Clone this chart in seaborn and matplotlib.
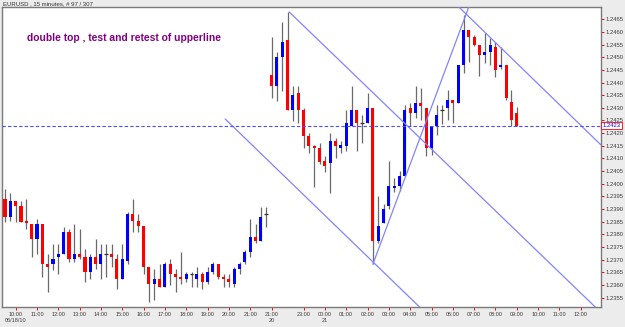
import numpy as np
import pandas as pd
import matplotlib
matplotlib.use("Agg")
import matplotlib.pyplot as plt
import matplotlib.transforms as mtransforms
import seaborn as sns

# ---------------- data (EURUSD 15 min candles) ----------------
opens = [1.23940, 1.23870, 1.23932, 1.23912, 1.23853, 1.23841, 1.23782, 1.23841, 1.23682, 1.23682,
         1.23712, 1.23721, 1.23810, 1.23703, 1.23722, 1.23712, 1.23652, 1.23712, 1.23682, 1.23721,
         1.23721, 1.23703, 1.23622, 1.23695, 1.23880, 1.23853, 1.23832, 1.23672, 1.23603, 1.23622,
         1.23593, 1.23682, 1.23643, 1.23633, 1.23622, 1.23643, 1.23622, 1.23643, 1.23613, 1.23652,
         1.23682, 1.23633, 1.23622, 1.23603, 1.23662, 1.23692, 1.23731, 1.23791, 1.23774, 1.23880,
         1.24430, 1.24386, 1.24500, 1.24568, 1.24292, 1.24360, 1.24292, 1.24190, 1.24149, 1.24142,
         1.24090, 1.24083, 1.24169, 1.24142, 1.24149, 1.24228, 1.24292, 1.24239, 1.24239, 1.24298,
         1.23774, 1.23844, 1.23912, 1.23982, 1.23991, 1.24031, 1.24298, 1.24281, 1.24318, 1.24299,
         1.24142, 1.24229, 1.24292, 1.24301, 1.24331, 1.24320, 1.24469, 1.24608, 1.24579, 1.24548,
         1.24509, 1.24520, 1.24541, 1.24461, 1.24469, 1.24323, 1.24280]
highs = [1.23979, 1.23962, 1.23932, 1.23932, 1.23940, 1.23841, 1.23861, 1.23841, 1.23721, 1.23761,
         1.23761, 1.23830, 1.23820, 1.23841, 1.23821, 1.23741, 1.23721, 1.23780, 1.23761, 1.23761,
         1.23761, 1.23721, 1.23761, 1.23889, 1.23940, 1.23880, 1.23832, 1.23672, 1.23663, 1.23682,
         1.23692, 1.23701, 1.23663, 1.23731, 1.23652, 1.23652, 1.23672, 1.23652, 1.23672, 1.23692,
         1.23682, 1.23642, 1.23642, 1.23672, 1.23692, 1.23738, 1.23859, 1.23840, 1.23909, 1.23909,
         1.24579, 1.24520, 1.24638, 1.24678, 1.24386, 1.24386, 1.24301, 1.24199, 1.24153, 1.24160,
         1.24110, 1.24199, 1.24180, 1.24169, 1.24292, 1.24386, 1.24292, 1.24272, 1.24360, 1.24298,
         1.23952, 1.23920, 1.24090, 1.24022, 1.24050, 1.24311, 1.24318, 1.24386, 1.24377, 1.24299,
         1.24229, 1.24311, 1.24311, 1.24371, 1.24331, 1.24469, 1.24667, 1.24608, 1.24588, 1.24548,
         1.24596, 1.24574, 1.24560, 1.24541, 1.24469, 1.24371, 1.24303]
lows = [1.23850, 1.23854, 1.23850, 1.23850, 1.23820, 1.23712, 1.23721, 1.23633, 1.23571, 1.23659,
        1.23642, 1.23721, 1.23692, 1.23692, 1.23703, 1.23610, 1.23622, 1.23662, 1.23622, 1.23633,
        1.23672, 1.23583, 1.23622, 1.23682, 1.23810, 1.23810, 1.23643, 1.23534, 1.23540, 1.23593,
        1.23593, 1.23600, 1.23573, 1.23603, 1.23613, 1.23593, 1.23593, 1.23583, 1.23603, 1.23643,
        1.23622, 1.23593, 1.23593, 1.23593, 1.23642, 1.23683, 1.23712, 1.23765, 1.23774, 1.23830,
        1.24340, 1.24327, 1.24368, 1.24292, 1.24248, 1.24239, 1.24140, 1.24120, 1.23988, 1.24078,
        1.24048, 1.23962, 1.24101, 1.24120, 1.24129, 1.24228, 1.24129, 1.24160, 1.24239, 1.23682,
        1.23765, 1.23844, 1.23900, 1.23969, 1.23971, 1.24031, 1.24228, 1.24261, 1.24252, 1.24111,
        1.24114, 1.24191, 1.24235, 1.24252, 1.24239, 1.24320, 1.24437, 1.24480, 1.24544, 1.24427,
        1.24477, 1.24469, 1.24422, 1.24454, 1.24331, 1.24228, 1.24228]
closes = [1.23870, 1.23932, 1.23912, 1.23850, 1.23844, 1.23782, 1.23841, 1.23682, 1.23672, 1.23703,
          1.23722, 1.23810, 1.23703, 1.23722, 1.23712, 1.23652, 1.23712, 1.23682, 1.23721, 1.23721,
          1.23712, 1.23622, 1.23703, 1.23880, 1.23853, 1.23833, 1.23672, 1.23603, 1.23622, 1.23593,
          1.23682, 1.23643, 1.23633, 1.23622, 1.23643, 1.23643, 1.23643, 1.23613, 1.23652, 1.23682,
          1.23633, 1.23622, 1.23613, 1.23662, 1.23682, 1.23731, 1.23791, 1.23774, 1.23870, 1.23880,
          1.24386, 1.24500, 1.24559, 1.24292, 1.24351, 1.24292, 1.24190, 1.24149, 1.24142, 1.24087,
          1.24070, 1.24169, 1.24149, 1.24153, 1.24239, 1.24292, 1.24239, 1.24239, 1.24298, 1.23774,
          1.23833, 1.23900, 1.23991, 1.23991, 1.24031, 1.24292, 1.24281, 1.24318, 1.24307, 1.24142,
          1.24229, 1.24272, 1.24292, 1.24331, 1.24320, 1.24469, 1.24608, 1.24579, 1.24548, 1.24509,
          1.24520, 1.24548, 1.24450, 1.24471, 1.24340, 1.24252, 1.24229]

# hour labels (bar index positions on the continuous bar axis)
tick_pos = [2, 6, 10, 14, 18, 22, 26, 30, 34, 38, 42, 46, 50, 56, 60, 64, 68, 72, 76, 80,
            84, 88, 92, 96, 100, 104, 108]
tick_labels = ["10:00\n06/18/10", "11:00", "12:00", "13:00", "14:00", "15:00", "16:00", "17:00",
               "18:00", "19:00", "20:00", "21:00", "21:00\n20", "23:00", "00:00\n21", "01:00",
               "02:00", "03:00", "04:00", "05:00", "06:00", "07:00", "08:00", "09:00", "10:00",
               "11:00", "12:00"]
price_ticks = [1.2355, 1.2360, 1.2365, 1.2370, 1.2375, 1.2380, 1.2385, 1.2390, 1.2395, 1.2400,
               1.2405, 1.2410, 1.2415, 1.2420, 1.2425, 1.2430, 1.2435, 1.2440, 1.2445, 1.2450,
               1.2455, 1.2460, 1.2465]
current_price = 1.2423

# trend lines: (start bar, start price) -> (end bar, end price)
trend_x0 = [53.3, 41.3, 85.1, 69.0]
trend_p0 = [1.24679, 1.24256, 1.24699, 1.23682]
trend_x1 = [110.7, 77.9, 111.8, 87.0]
trend_p1 = [1.23513, 1.23510, 1.24153, 1.24699]

title = "EURUSD , 15 minutes, # 97 / 307"
note = "double top , test and retest of upperline"

# ---------------- drawing ----------------
sns.set_theme(style="white")
plt.rcParams['font.family'] = ['Liberation Sans', 'DejaVu Sans']

df = pd.DataFrame({"open": opens, "high": highs, "low": lows, "close": closes})
df["bar"] = np.arange(len(df))
df["up"] = df["close"] > df["open"]
df["doji"] = df["close"] == df["open"]
df["bottom"] = df[["open", "close"]].min(axis=1)
df["height"] = (df["close"] - df["open"]).abs()

fig = plt.figure(figsize=(6.25, 3.27), dpi=100)
fig.patch.set_facecolor("#ececec")
ax = fig.add_axes([0.0037, 0.062, 0.958, 0.9155])
ax.set_facecolor("white")

# wicks
ax.vlines(df["bar"], df["low"], df["high"], color="#6a6a6a", lw=0.9, zorder=2)

# bodies
body = df[~df["doji"]]
colors = np.where(body["up"], "#0000ff", "#ff0000")
ax.bar(body["bar"], body["height"], bottom=body["bottom"], width=0.58,
       color=colors, linewidth=0, zorder=3)
dj = df[df["doji"]]
ax.hlines(dj["open"], dj["bar"] - 0.35, dj["bar"] + 0.35, color="#333333", lw=0.9, zorder=3)

# trend lines
for x0, p0, x1, p1 in zip(trend_x0, trend_p0, trend_x1, trend_p1):
    tl = pd.DataFrame({"x": [x0, x1], "y": [p0, p1]})
    sns.lineplot(data=tl, x="x", y="y", ax=ax, color="#8383ff", lw=0.9, zorder=4)

# current price dashed line
ax.axhline(current_price, color="#4b4bff", lw=0.8, dashes=(3, 2), zorder=4)

ax.set_xlim(-0.5, 111.8)
ax.set_ylim(1.23514, 1.24697)

ax.set_xlabel("")
ax.set_ylabel("")
ax.set_xticks(tick_pos)
ax.set_xticklabels(tick_labels, fontsize=4.0, color="#3c3c3c", linespacing=1.45)
ax.yaxis.tick_right()
ax.set_yticks(price_ticks)
ax.set_yticklabels([f"{v:.4f}" for v in price_ticks], fontsize=4.2, color="#3c3c3c")
ax.tick_params(axis="both", which="both", direction="out", length=2.5, width=0.7,
               color="#ff0000", pad=1.0)
ax.tick_params(axis="y", right=True, left=False)
ax.tick_params(axis="x", bottom=True)

for s in ax.spines.values():
    s.set_color("#7a7a7a")
    s.set_linewidth(1.0)
    s.set_visible(True)

# current price label box
trans = mtransforms.blended_transform_factory(ax.transAxes, ax.transData)
ax.text(1.003, current_price, f"{current_price:.4f}", transform=trans, fontsize=4.2,
        color="#0000ff", va="center", ha="left", zorder=6,
        bbox=dict(boxstyle="square,pad=0.25", facecolor="white", edgecolor="#ff0000", lw=0.6))

fig.text(0.005, 0.997, title, fontsize=4.3, color="#333333", va="top", ha="left")
ax.text(0.041, 0.897, note, transform=ax.transAxes, fontsize=7.4, fontweight="bold",
        color="#800080", va="center", ha="left")

fig.savefig("out.png", dpi=100, facecolor=fig.get_facecolor())
